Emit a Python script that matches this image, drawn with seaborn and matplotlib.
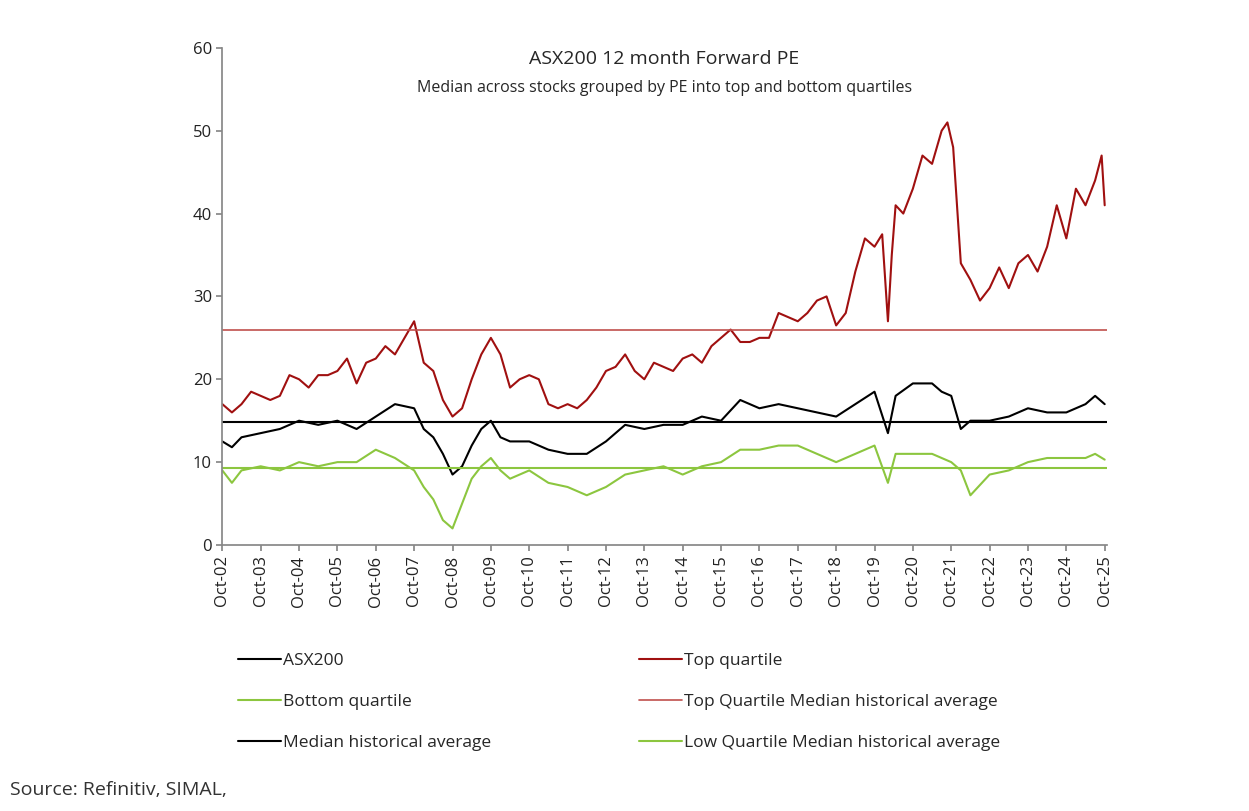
import matplotlib
matplotlib.use("Agg")
import matplotlib.pyplot as plt
import seaborn as sns
import pandas as pd

sns.set_theme(style="white")
plt.rcParams['font.family'] = ['Open Sans', 'DejaVu Sans']

# decimal years (Oct-02 = 2002.75)
top_t = [2002.75,2003.0,2003.25,2003.5,2003.75,2004.0,2004.25,2004.5,2004.75,2005.0,2005.25,2005.5,2005.75,2006.0,2006.25,2006.5,2006.75,2007.0,2007.25,2007.75,2008.0,2008.25,2008.5,2008.75,2009.0,2009.25,2009.5,2009.75,2010.0,2010.25,2010.5,2010.75,2011.0,2011.25,2011.5,2011.75,2012.0,2012.25,2012.5,2012.75,2013.0,2013.25,2013.5,2013.75,2014.0,2014.25,2014.5,2014.75,2015.0,2015.25,2015.5,2015.75,2016.0,2016.25,2016.5,2016.75,2017.0,2017.25,2017.5,2017.75,2018.0,2018.25,2018.5,2018.75,2019.0,2019.25,2019.5,2019.75,2019.95,2020.1,2020.2,2020.3,2020.5,2020.75,2021.0,2021.25,2021.5,2021.65,2021.8,2022.0,2022.25,2022.5,2022.75,2023.0,2023.25,2023.5,2023.75,2024.0,2024.25,2024.5,2024.75,2025.0,2025.25,2025.5,2025.67,2025.75]
top_v = [17,16,17,18.5,18,17.5,18,20.5,20,19,20.5,20.5,21,22.5,19.5,22,22.5,24,23,27,22,21,17.5,15.5,16.5,20,23,25,23,19,20,20.5,20,17,16.5,17,16.5,17.5,19,21,21.5,23,21,20,22,21.5,21,22.5,23,22,24,25,26,24.5,24.5,25,25,28,27.5,27,28,29.5,30,26.5,28,33,37,36,37.5,27,35,41,40,43,47,46,50,51,48,34,32,29.5,31,33.5,31,34,35,33,36,41,37,43,41,44,47,41]

mkt_t = [2002.75,2003.0,2003.25,2003.75,2004.25,2004.75,2005.25,2005.75,2006.25,2006.75,2007.25,2007.75,2008.0,2008.25,2008.5,2008.75,2009.0,2009.25,2009.5,2009.75,2010.0,2010.25,2010.75,2011.25,2011.75,2012.25,2012.75,2013.25,2013.75,2014.25,2014.75,2015.25,2015.75,2016.25,2016.75,2017.25,2017.75,2018.25,2018.75,2019.25,2019.75,2020.1,2020.3,2020.75,2021.25,2021.5,2021.75,2022.0,2022.25,2022.75,2023.25,2023.75,2024.25,2024.75,2025.25,2025.5,2025.75]
mkt_v = [12.5,11.8,13,13.5,14,15,14.5,15,14,15.5,17,16.5,14,13,11,8.5,9.5,12,14,15,13,12.5,12.5,11.5,11,11,12.5,14.5,14,14.5,14.5,15.5,15,17.5,16.5,17,16.5,16,15.5,17,18.5,13.5,18,19.5,19.5,18.5,18,14,15,15,15.5,16.5,16,16,17,18,17]

bot_v = [9,7.5,9,9.5,9,10,9.5,10,10,11.5,10.5,9,7,5.5,3,2,5,8,9.5,10.5,9,8,9,7.5,7,6,7,8.5,9,9.5,8.5,9.5,10,11.5,11.5,12,12,11,10,11,12,7.5,11,11,11,10.5,10,9,6,8.5,9,10,10.5,10.5,10.5,11,10.3]

top_avg, mkt_avg, bot_avg = 26.0, 14.8, 9.3
tick_labels = [f"Oct-{y % 100:02d}" for y in range(2002, 2026)]
tick_pos = [2002.75 + i for i in range(len(tick_labels))]

RED, BLK, GRN = "#a01010", "#000000", "#8cc63f"

fig = plt.figure(figsize=(12.49, 8.11), dpi=100)
ax = fig.add_axes([0.178, 0.328, 0.708, 0.613])
df_top = pd.DataFrame({"t": top_t, "v": top_v})
df_m = pd.DataFrame({"t": mkt_t, "v": mkt_v, "b": bot_v})
sns.lineplot(data=df_m, x="t", y="v", color=BLK, lw=1.5, ax=ax, label="ASX200")
sns.lineplot(data=df_top, x="t", y="v", color=RED, lw=1.5, ax=ax, label="Top quartile")
sns.lineplot(data=df_m, x="t", y="b", color=GRN, lw=1.5, ax=ax, label="Bottom quartile")
ax.axhline(top_avg, color="#c0504d", lw=1.2, label="Top Quartile Median historical average")
ax.axhline(mkt_avg, color=BLK, lw=1.5, label="Median historical average")
ax.axhline(bot_avg, color=GRN, lw=1.5, label="Low Quartile Median historical average")

ax.set_xlim(2002.75, 2025.8)
ax.set_ylim(0, 60)
ax.set_yticks(range(0, 61, 10))
ax.set_xticks(tick_pos)
ax.set_xticklabels(tick_labels, rotation=90, fontsize=12, color="#222222")
ax.tick_params(axis='y', labelsize=12, labelcolor="#222222")
ax.tick_params(axis='both', direction='out', length=4, color="#888888", left=True, bottom=True)
ax.set_xlabel(""); ax.set_ylabel("")
for s in ["top", "right"]:
    ax.spines[s].set_visible(False)
for s in ["left", "bottom"]:
    ax.spines[s].set_color("#888888")

ax.text(0.5, 0.995, "ASX200 12 month Forward PE", transform=ax.transAxes, ha="center", va="top", fontsize=14)
ax.text(0.5, 0.935, "Median across stocks grouped by PE into top and bottom quartiles", transform=ax.transAxes, ha="center", va="top", fontsize=11.5)

h, l = ax.get_legend_handles_labels()
hh = [h[0], h[2], h[4], h[1], h[3], h[5]]
ll = [l[0], l[2], l[4], l[1], l[3], l[5]]
ax.legend(hh, ll, loc="upper left", bbox_to_anchor=(0.0, -0.185), ncol=2, frameon=False,
          fontsize=12.5, handlelength=2.5, handletextpad=0.1, columnspacing=8.5, labelspacing=1.45)

fig.text(0.008, 0.02, "Source: Refinitiv, SIMAL,", fontsize=14, color="#333333")
fig.savefig("out.png", dpi=100)
